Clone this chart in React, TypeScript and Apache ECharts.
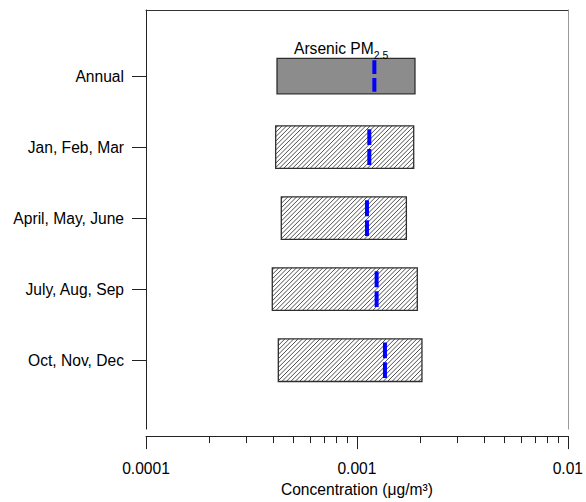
import React, { useEffect, useRef } from "react";
import * as echarts from "echarts";

// Seasonal and annual concentration ranges
const categories = [
  "Annual",
  "Jan, Feb, Mar",
  "April, May, June",
  "July, Aug, Sep",
  "Oct, Nov, Dec",
];
const lowValues = [0.000418, 0.000412, 0.000438, 0.000397, 0.000424];
const highValues = [0.001885, 0.001859, 0.001716, 0.001933, 0.002034];
const medianValues = [0.00121, 0.001145, 0.001116, 0.00124, 0.001358];

const xTickValues = [0.0001, 0.001, 0.01];
const xTickLabels = ["0.0001", "0.001", "0.01"];
const xMinorTickValues = [
  0.0002, 0.0003, 0.0004, 0.0005, 0.0006, 0.0007, 0.0008, 0.0009,
  0.002, 0.003, 0.004, 0.005, 0.006, 0.007, 0.008, 0.009,
];

const FONT = "'Liberation Sans', Arial, Helvetica, sans-serif";
const FONT_SIZE = 15.6;
const HATCH_STEP = 4.4;

function renderBox(params: any, api: any) {
  const i = api.value(3);
  const lo = api.coord([api.value(0), i]);
  const hi = api.coord([api.value(1), i]);
  const md = api.coord([api.value(2), i]);
  const half = Math.abs(api.coord([api.value(0), i + 0.5])[1] - lo[1]);
  const isAnnual = i === 0;
  const h = 2 * half * (isAnnual ? 0.5 : 0.6);
  const x0 = lo[0];
  const x1 = hi[0];
  const y0 = lo[1] - h / 2;
  const y1 = lo[1] + h / 2;
  const children: any[] = [];
  children.push({
    type: "rect",
    shape: { x: x0, y: y0, width: x1 - x0, height: h },
    style: { fill: isAnnual ? "#8c8c8c" : "#ffffff", stroke: "none" },
  });
  if (!isAnnual) {
    // diagonal "/" hatching clipped to the box
    for (let c = x0 + y0 + HATCH_STEP / 2; c < x1 + y1; c += HATCH_STEP) {
      const xa = Math.max(x0, c - y1);
      const xb = Math.min(x1, c - y0);
      if (xb <= xa) continue;
      children.push({
        type: "line",
        shape: { x1: xa, y1: c - xa, x2: xb, y2: c - xb },
        style: { stroke: "#3a3a3a", lineWidth: 0.9 },
      });
    }
  }
  children.push({
    type: "rect",
    shape: { x: x0, y: y0, width: x1 - x0, height: h },
    style: { fill: "none", stroke: "#2e2e2e", lineWidth: 1.3 },
  });
  const inset = isAnnual ? 2 : 3.5;
  const len = h - 2 * inset;
  const gap = 4;
  const dash = (len - gap) / 2;
  children.push({
    type: "line",
    shape: { x1: md[0], y1: y0 + inset, x2: md[0], y2: y1 - inset },
    style: { stroke: "#0000ff", lineWidth: 4, lineDash: [dash, gap] },
  });
  return { type: "group", children };
}

export default function App() {
  const ref = useRef<HTMLDivElement>(null);

  useEffect(() => {
    if (!ref.current) return;
    const chart = echarts.init(ref.current, undefined, { renderer: "svg" });
    const yRange = { min: -0.93, max: 4.97 };
    chart.setOption({
      animation: false,
      backgroundColor: "#ffffff",
      textStyle: { fontFamily: FONT },
      title: {
        left: 289,
        top: 35,
        text: "{a|Arsenic PM}{s|2.5}",
        textStyle: {
          fontWeight: "normal",
          rich: {
            a: {
              fontFamily: FONT,
              fontSize: FONT_SIZE,
              fontWeight: "normal",
              color: "#000",
              lineHeight: 15,
              verticalAlign: "top",
            },
            s: {
              fontFamily: FONT,
              fontSize: 10.5,
              fontWeight: "normal",
              color: "#000",
              lineHeight: 20,
              verticalAlign: "bottom",
            },
          },
        },
      },
      grid: { left: 146, right: 15, top: 10, bottom: 67 },
      xAxis: [
        {
          type: "log",
          logBase: 10,
          min: 0.0001,
          max: 0.01,
          position: "bottom",
          offset: 7,
          axisLine: { onZero: false, lineStyle: { color: "#222", width: 1 } },
          axisTick: {
            length: 13,
            customValues: xTickValues,
            lineStyle: { color: "#222" },
          },
          axisLabel: {
            customValues: xTickValues,
            formatter: (v: number) =>
              xTickLabels[Math.round(Math.log10(v)) + 4] ?? "",
            fontSize: FONT_SIZE,
            color: "#000",
            margin: 24,
            fontFamily: FONT,
          },
          splitLine: { show: false },
          name: "Concentration (μg/m³)",
          nameLocation: "middle",
          nameGap: 44,
          nameTextStyle: { fontSize: FONT_SIZE, color: "#000", fontFamily: FONT },
        },
        {
          type: "log",
          logBase: 10,
          min: 0.0001,
          max: 0.01,
          position: "bottom",
          offset: 7,
          axisLine: { show: false, onZero: false },
          axisTick: {
            length: 7,
            customValues: xMinorTickValues,
            lineStyle: { color: "#222" },
          },
          axisLabel: { show: false },
          splitLine: { show: false },
        },
        {
          type: "log",
          logBase: 10,
          min: 0.0001,
          max: 0.01,
          position: "top",
          axisLine: { onZero: false, lineStyle: { color: "#333" } },
          axisTick: { show: false },
          axisLabel: { show: false },
          splitLine: { show: false },
        },
      ],
      yAxis: [
        {
          type: "value",
          inverse: true,
          ...yRange,
          position: "left",
          axisLine: { show: true, onZero: false, lineStyle: { color: "#222" } },
          axisTick: {
            show: true,
            length: 14,
            customValues: [0, 1, 2, 3, 4],
            lineStyle: { color: "#222" },
          },
          axisLabel: {
            customValues: [0, 1, 2, 3, 4],
            formatter: (v: number) => categories[Math.round(v)] ?? "",
            fontSize: FONT_SIZE,
            color: "#000",
            margin: 22,
            fontFamily: FONT,
          },
          splitLine: { show: false },
        },
        {
          type: "value",
          inverse: true,
          ...yRange,
          position: "right",
          axisLine: { show: true, onZero: false, lineStyle: { color: "#999" } },
          axisTick: { show: false },
          axisLabel: { show: false },
          splitLine: { show: false },
        },
      ],
      series: [
        {
          type: "custom",
          xAxisIndex: 0,
          yAxisIndex: 0,
          renderItem: renderBox,
          encode: { x: [0, 1, 2], y: 3 },
          data: categories.map((_, i) => [
            lowValues[i],
            highValues[i],
            medianValues[i],
            i,
          ]),
        },
      ],
    });
    return () => chart.dispose();
  }, []);

  return (
    <div
      ref={ref}
      style={{ position: "fixed", left: 0, top: 0, width: 586, height: 502 }}
    />
  );
}
